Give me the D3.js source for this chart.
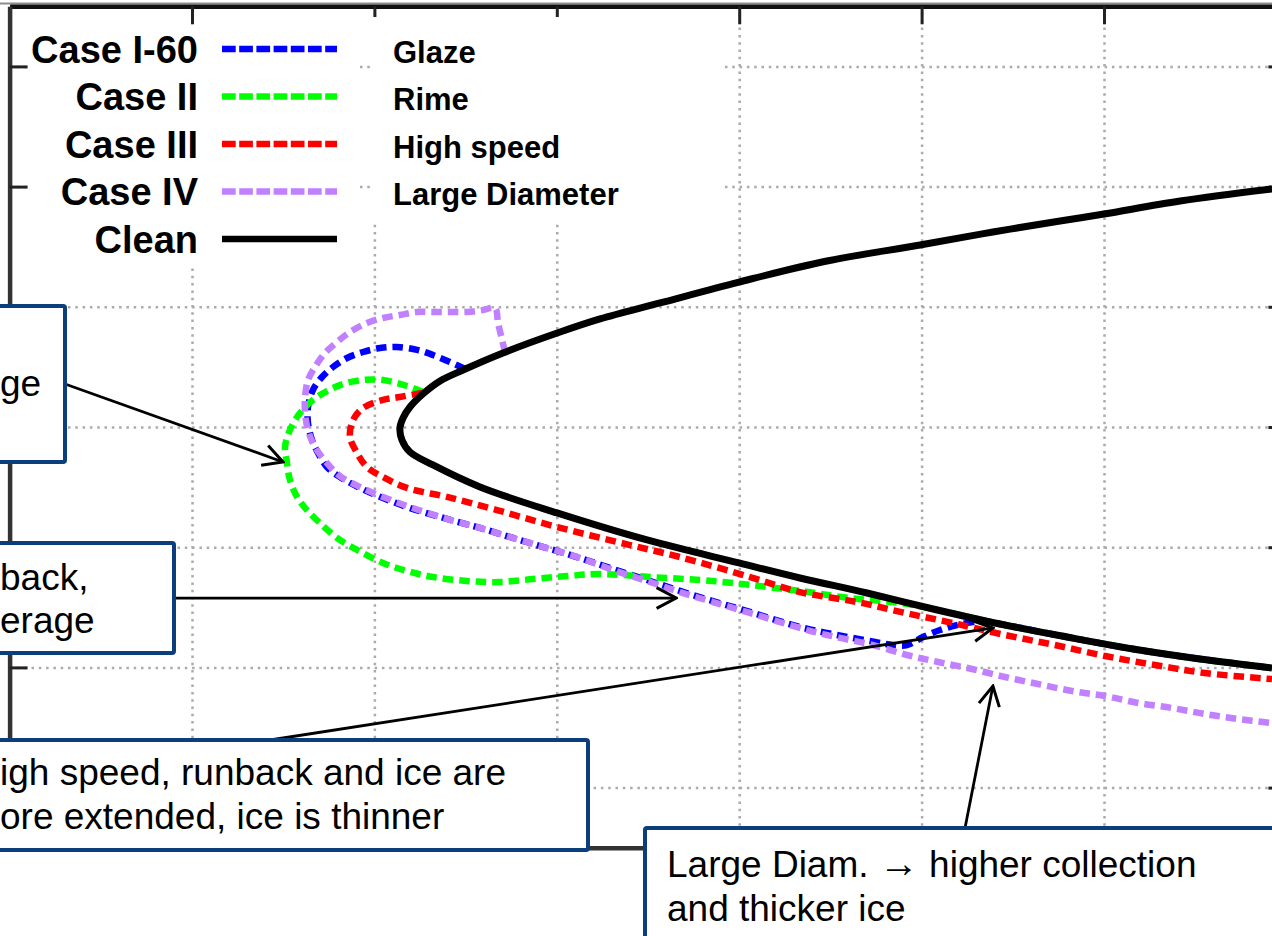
<!DOCTYPE html>
<html>
<head>
<meta charset="utf-8">
<script src="https://cdn.jsdelivr.net/npm/d3@7"></script>
<style>
  html, body { margin: 0; padding: 0; background: #fff; }
  svg { display: block; font-family: "Liberation Sans", Arial, sans-serif; }
</style>
</head>
<body>
<svg id="chart" width="1272" height="936"></svg>
<script>
// ice shapes, digitized in grid units (one grid step = 1)
const caseI60 = [[2.497,3.983],[2.414,4.041],[2.321,4.099],[2.234,4.141],[2.124,4.166],[2.031,4.157],[1.938,4.124],[1.850,4.074],[1.773,3.999],[1.713,3.916],[1.663,3.808],[1.636,3.666],[1.636,3.533],[1.658,3.392],[1.691,3.284],[1.740,3.167],[1.811,3.084],[1.921,2.993],[2.047,2.909],[2.195,2.826],[2.398,2.735],[2.579,2.660],[2.760,2.577],[2.946,2.493],[3.127,2.410],[3.308,2.319],[3.495,2.227],[3.675,2.136],[3.856,2.052],[4.059,1.961],[4.333,1.836],[4.536,1.770],[4.745,1.711],[4.843,1.686],[4.920,1.686],[5.008,1.753],[5.101,1.811],[5.211,1.858],[5.330,1.885],[5.430,1.861],[5.797,1.753],[6.159,1.653],[6.526,1.570],[6.921,1.495]];

const caseII = [[2.266,3.791],[2.179,3.841],[2.047,3.891],[1.938,3.891],[1.828,3.858],[1.740,3.799],[1.663,3.725],[1.592,3.616],[1.537,3.475],[1.510,3.334],[1.521,3.200],[1.537,3.059],[1.576,2.918],[1.630,2.809],[1.702,2.701],[1.795,2.577],[1.905,2.477],[2.047,2.369],[2.179,2.302],[2.321,2.252],[2.508,2.219],[2.689,2.210],[2.870,2.235],[3.056,2.260],[3.237,2.277],[3.511,2.252],[3.785,2.227],[3.966,2.202],[4.333,2.136],[4.607,2.077],[4.882,2.036],[5.063,1.986],[5.430,1.861],[5.797,1.753],[6.159,1.653],[6.526,1.570],[6.921,1.495]];

const caseIII = [[2.261,3.783],[2.140,3.750],[2.047,3.725],[1.938,3.658],[1.883,3.558],[1.866,3.417],[1.905,3.284],[1.959,3.167],[2.047,3.084],[2.179,2.993],[2.398,2.918],[2.672,2.809],[3.001,2.668],[3.401,2.518],[3.675,2.418],[4.059,2.252],[4.333,2.127],[4.646,2.044],[4.909,1.953],[5.172,1.869],[5.457,1.770],[5.731,1.686],[6.005,1.595],[6.280,1.520],[6.554,1.453],[6.921,1.403]];

const caseIV = [[2.716,4.124],[2.700,4.224],[2.678,4.365],[2.661,4.490],[2.595,4.473],[2.508,4.457],[2.414,4.457],[2.321,4.457],[2.234,4.457],[2.140,4.432],[2.047,4.407],[1.959,4.365],[1.866,4.290],[1.795,4.207],[1.729,4.116],[1.674,3.999],[1.636,3.891],[1.620,3.750],[1.620,3.616],[1.636,3.475],[1.674,3.334],[1.740,3.200],[1.811,3.092],[1.921,3.001],[2.047,2.918],[2.195,2.834],[2.398,2.735],[2.579,2.660],[2.760,2.577],[2.946,2.493],[3.127,2.410],[3.308,2.310],[3.495,2.219],[3.675,2.127],[3.856,2.044],[4.059,1.953],[4.372,1.811],[4.553,1.745],[4.734,1.686],[4.920,1.603],[5.090,1.545],[5.276,1.487],[5.457,1.420],[5.638,1.362],[5.825,1.304],[6.005,1.262],[6.186,1.204],[6.373,1.162],[6.554,1.112],[6.735,1.071],[6.921,1.037]];

const clean = [[6.921,5.480],[6.417,5.380],[6.000,5.272],[5.759,5.214],[5.391,5.122],[4.991,5.014],[4.481,4.881],[3.999,4.706],[3.566,4.532],[3.237,4.399],[3.018,4.290],[2.705,4.116],[2.486,3.974],[2.360,3.883],[2.266,3.775],[2.195,3.666],[2.157,3.575],[2.140,3.492],[2.151,3.392],[2.195,3.292],[2.321,3.184],[2.579,3.001],[3.001,2.785],[3.495,2.560],[3.999,2.369],[4.333,2.244],[4.701,2.119],[5.063,1.986],[5.430,1.861],[5.797,1.753],[6.159,1.653],[6.526,1.570],[6.921,1.495]];

const caseNames = ["Case I-60", "Case II", "Case III", "Case IV", "Clean"];
const caseTypes = ["Glaze", "Rime", "High speed", "Large Diameter"];
const caseColors = ["#0000ff", "#00ff00", "#ff0000", "#c080ff", "#000000"];

const xTicks = [1, 2, 3, 4, 5, 6];
const yTicks = [0.5, 1.5, 2.5, 3.5, 4.5, 5.5, 6.5];

// callout arrows: [from, to] in grid units
const arrows = [
  [[0.304, 3.858], [1.499, 3.209]],
  [[0.907, 2.077], [3.654, 2.077]],
  [[1.428, 0.896], [5.391, 1.828]],
  [[5.238, 0.164], [5.391, 1.345]]
];
const noteLines = [
  [["ge"]],
  [["back,"], ["erage"]],
  [["igh speed, runback and ice are"], ["ore extended, ice is thinner"]],
  [["Large Diam. ", "\u2192", " higher collection"], ["and thicker ice"]]
];

const svg = d3.select("#chart");
const W = 1272, H = 936;

const x = d3.scaleLinear().domain([0, 7]).range([9.6, 1286.4]);
const y = d3.scaleLinear().domain([0, 7]).range([847.7, 6.3]);

svg.append("rect").attr("width", W).attr("height", H).attr("fill", "#fff");

// dotted grid
const grid = svg.append("g");
grid.append("g")
  .attr("transform", `translate(0,${y(0)})`)
  .call(d3.axisBottom(x).tickValues(xTicks).tickSize(-(y(0) - y(7))).tickFormat(""));
grid.append("g")
  .attr("transform", `translate(${x(0)},0)`)
  .call(d3.axisLeft(y).tickValues(yTicks).tickSize(-(x(7) - x(0))).tickFormat(""));
grid.selectAll(".domain").remove();
grid.selectAll(".tick line")
  .attr("stroke", "#ababab")
  .attr("stroke-width", 2.5)
  .attr("stroke-dasharray", "2.5,4.8");

// box axes with inward ticks
function boxAxis(axis, tr, color) {
  const g = svg.append("g").attr("transform", tr)
    .call(axis.tickSizeInner(-18).tickSizeOuter(0).tickFormat(""));
  g.select(".domain").attr("stroke", color).attr("stroke-width", 4.5);
  g.selectAll(".tick line").attr("stroke", "#222").attr("stroke-width", 3);
  return g;
}
svg.append("line").attr("x1", 0).attr("x2", W).attr("y1", 3.5).attr("y2", 3.5)
  .attr("stroke", "#8c8c8c").attr("stroke-width", 2);
boxAxis(d3.axisTop(x).tickValues(xTicks), `translate(0,${y(7)})`, "#111");
boxAxis(d3.axisBottom(x).tickValues(xTicks), `translate(0,${y(0)})`, "#333");
boxAxis(d3.axisLeft(y).tickValues(yTicks), `translate(${x(0)},0)`, "#333");
boxAxis(d3.axisRight(y).tickValues(yTicks), `translate(${x(7)},0)`, "#333");

// legend backgrounds hide the grid (the right one also part of the top ticks)
svg.append("rect").attr("x", 29).attr("y", 27).attr("width", 329).attr("height", 240).attr("fill", "#fff");
svg.append("rect").attr("x", 371).attr("y", 17).attr("width", 353).attr("height", 205).attr("fill", "#fff");

// curves
const line = d3.line()
  .x(d => x(d[0]))
  .y(d => y(d[1]))
  .curve(d3.curveCatmullRom.alpha(0.5));

const series = [caseI60, caseII, caseIII, caseIV, clean];
series.forEach((s, i) => {
  svg.append("path")
    .datum(s)
    .attr("d", line)
    .attr("fill", "none")
    .attr("stroke", caseColors[i])
    .attr("stroke-width", i === 4 ? 7 : 6.5)
    .attr("stroke-linejoin", "round")
    .attr("stroke-dasharray", i === 4 ? null : "10.5,6");
});

// legend
const legend = svg.append("g");
caseNames.forEach((name, i) => {
  const ly = 49 + i * 47.5;
  legend.append("text")
    .attr("x", 198).attr("y", ly + 13.5)
    .attr("text-anchor", "end")
    .attr("font-size", 38).attr("font-weight", "bold")
    .text(name);
  legend.append("line")
    .attr("x1", 222).attr("x2", 337).attr("y1", ly).attr("y2", ly)
    .attr("stroke", caseColors[i])
    .attr("stroke-width", 6.5)
    .attr("stroke-dasharray", i === 4 ? null : "13.7,3.5");
  if (i < caseTypes.length) {
    legend.append("text")
      .attr("x", 393).attr("y", ly + 13.5)
      .attr("font-size", 31).attr("font-weight", "bold")
      .text(caseTypes[i]);
  }
});

// arrows
svg.append("defs").append("marker")
  .attr("id", "open")
  .attr("viewBox", "-22 -13 24 26")
  .attr("refX", 0).attr("refY", 0)
  .attr("markerUnits", "userSpaceOnUse")
  .attr("markerWidth", 24).attr("markerHeight", 26)
  .attr("orient", "auto")
  .append("path")
  .attr("d", "M-19.5,-10.4L0,0L-19.5,10.4")
  .attr("fill", "none").attr("stroke", "#000").attr("stroke-width", 3);

arrows.forEach(a => {
  svg.append("line")
    .attr("x1", x(a[0][0])).attr("y1", y(a[0][1]))
    .attr("x2", x(a[1][0])).attr("y2", y(a[1][1]))
    .attr("stroke", "#000").attr("stroke-width", 2.8)
    .attr("marker-end", "url(#open)");
});

// callout boxes
const boxes = [
  {x: -20, y: 306, w: 85, h: 156, tx: 0, base: [396]},
  {x: -20, y: 543, w: 194, h: 110, tx: 0, base: [590, 633]},
  {x: -20, y: 740, w: 608, h: 110, tx: 0, base: [785, 829]},
  {x: 645, y: 828, w: 660, h: 140, tx: 667, base: [877, 921]}
];
boxes.forEach((b, i) => {
  svg.append("rect")
    .attr("x", b.x).attr("y", b.y).attr("width", b.w).attr("height", b.h)
    .attr("rx", 2)
    .attr("fill", "#fff").attr("stroke", "#0b3f7c").attr("stroke-width", 4);
  noteLines[i].forEach((parts, k) => {
    const t = svg.append("text")
      .attr("x", b.tx).attr("y", b.base[k])
      .attr("font-size", 37)
      .attr("xml:space", "preserve");
    parts.forEach(p => {
      const sp = t.append("tspan").text(p);
      if (p === "\u2192") sp.attr("font-weight", "bold").attr("font-size", 40);
    });
  });
});
</script>
</body>
</html>
